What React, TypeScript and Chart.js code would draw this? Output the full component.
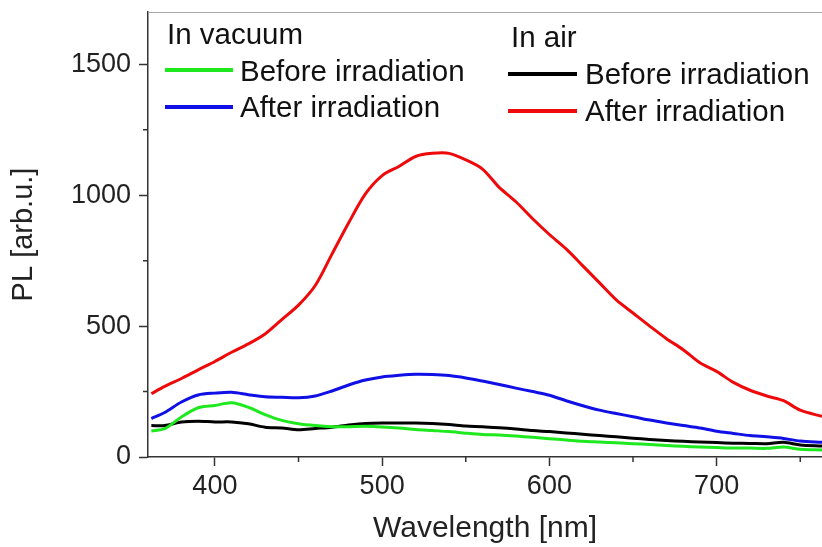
import React, { useEffect, useRef } from 'react';
import { Chart, registerables } from 'chart.js';

Chart.register(...registerables);

const wavelengths = [362, 370, 380, 390, 400, 410, 420, 430, 440, 450, 460, 470, 480, 490, 500, 510, 520, 530, 540, 550, 560, 570, 580, 590, 600, 610, 620, 630, 640, 650, 660, 670, 680, 690, 700, 710, 720, 730, 740, 750, 763];
const vacuumBefore = [99, 108, 153, 188, 197, 207, 190, 162, 140, 127, 120, 116, 116, 117, 115, 111, 105, 101, 97, 91, 86, 84, 80, 75, 70, 65, 60, 57, 54, 51, 48, 44, 41, 38, 36, 34, 34, 33, 38, 30, 27];
const vacuumAfter = [147, 170, 210, 237, 244, 247, 238, 230, 228, 226, 233, 252, 275, 294, 306, 312, 316, 315, 311, 302, 290, 277, 263, 250, 236, 215, 196, 179, 166, 154, 141, 130, 120, 111, 98, 90, 82, 77, 71, 61, 56];
const airBefore = [120, 120, 134, 137, 134, 134, 127, 114, 111, 104, 109, 114, 122, 128, 130, 130, 130, 128, 124, 118, 116, 112, 107, 101, 97, 92, 87, 82, 77, 72, 67, 63, 60, 57, 55, 53, 52, 51, 56, 46, 42];
const airAfter = [242, 270, 300, 333, 365, 400, 432, 470, 525, 580, 655, 775, 895, 1005, 1075, 1110, 1148, 1160, 1160, 1135, 1100, 1030, 975, 910, 850, 795, 730, 665, 600, 550, 500, 452, 410, 360, 327, 285, 255, 233, 215, 179, 155];

const xTicks = [400, 500, 600, 700];
const xMinorTicks = [450, 550, 650, 750];
const yTicks = [0, 500, 1000, 1500];
const yMinorTicks = [250, 750, 1250];

const groupTitles = ['In vacuum', 'In air'];
const seriesLabels = ['Before irradiation', 'After irradiation', 'Before irradiation', 'After irradiation'];
const seriesColors = ['#1ee81e', '#1010e6', '#000000', '#ee0a0a'];
const seriesData = [vacuumBefore, vacuumAfter, airBefore, airAfter];

const FONT = "'Liberation Sans', Arial, sans-serif";

const legendLayout = {
  groups: [
    { titleX: 167, titleY: 44, lineX: 165, lineLen: 68, textX: 240, rows: [{ y: 70, base: 81 }, { y: 107, base: 117 }] },
    { titleX: 511, titleY: 47, lineX: 508, lineLen: 69, textX: 585, rows: [{ y: 74, base: 84 }, { y: 111, base: 121 }] },
  ],
};

const decorPlugin = {
  id: 'decor',
  afterDraw(chart: any) {
    const { ctx, chartArea, scales } = chart;
    ctx.save();
    ctx.strokeStyle = '#aaaaaa';
    ctx.lineWidth = 1;
    ctx.beginPath();
    ctx.moveTo(chartArea.left, chartArea.top + 0.5);
    ctx.lineTo(chartArea.right, chartArea.top + 0.5);
    ctx.stroke();

    ctx.strokeStyle = '#333333';
    ctx.lineWidth = 1.5;
    ctx.beginPath();
    xMinorTicks.forEach((v) => {
      const x = scales.x.getPixelForValue(v);
      ctx.moveTo(x, chartArea.bottom);
      ctx.lineTo(x, chartArea.bottom + 5);
    });
    yMinorTicks.forEach((v) => {
      const y = scales.y.getPixelForValue(v);
      ctx.moveTo(chartArea.left, y);
      ctx.lineTo(chartArea.left - 5, y);
    });
    ctx.stroke();

    ctx.font = `29.5px ${FONT}`;
    ctx.fillStyle = '#111111';
    ctx.textBaseline = 'alphabetic';
    ctx.textAlign = 'left';
    legendLayout.groups.forEach((g, gi) => {
      ctx.fillText(groupTitles[gi], g.titleX, g.titleY);
      g.rows.forEach((r, ri) => {
        const idx = gi * 2 + ri;
        ctx.strokeStyle = seriesColors[idx];
        ctx.lineWidth = 4;
        ctx.beginPath();
        ctx.moveTo(g.lineX, r.y);
        ctx.lineTo(g.lineX + g.lineLen, r.y);
        ctx.stroke();
        ctx.fillText(seriesLabels[idx], g.textX, r.base);
      });
    });
    ctx.restore();
  },
};

export default function App() {
  const ref = useRef<HTMLCanvasElement | null>(null);
  useEffect(() => {
    if (!ref.current) return;
    const datasets = seriesData.map((arr, i) => ({
      label: seriesLabels[i],
      data: arr.map((v, j) => ({ x: wavelengths[j], y: v })),
      borderColor: seriesColors[i],
      backgroundColor: seriesColors[i],
      borderWidth: 3,
      pointRadius: 0,
      tension: 0.3,
      fill: false,
      order: [2, 3, 4, 1][i],
    }));
    const chart = new Chart(ref.current, {
      type: 'line',
      data: { datasets },
      plugins: [decorPlugin],
      options: {
        animation: false,
        responsive: false,
        maintainAspectRatio: false,
        layout: { padding: { top: 12, right: 0, left: 0, bottom: 0 } },
        plugins: { legend: { display: false }, tooltip: { enabled: false } },
        scales: {
          x: {
            type: 'linear',
            min: 360,
            max: 763,
            afterBuildTicks: (s: any) => { s.ticks = xTicks.map((v) => ({ value: v })); },
            afterFit: (s: any) => { s.height = 90; s.paddingLeft = 0; s.paddingRight = 0; },
            grid: { drawOnChartArea: false, drawTicks: true, tickLength: 9, tickColor: '#333333', tickWidth: 1.5 },
            border: { display: true, color: '#333333', width: 1.5 },
            ticks: { font: { size: 27, family: FONT }, color: '#222222', padding: 4, maxRotation: 0, callback: (v: any) => String(v) },
            title: { display: true, text: 'Wavelength [nm]', font: { size: 30, family: FONT }, color: '#222222', padding: { top: 0, bottom: 0 } },
          },
          y: {
            type: 'linear',
            min: 0,
            max: 1700,
            afterBuildTicks: (s: any) => { s.ticks = yTicks.map((v) => ({ value: v })); },
            afterFit: (s: any) => { s.width = 148; s.paddingTop = 0; s.paddingBottom = 0; },
            grid: { drawOnChartArea: false, drawTicks: true, tickLength: 9, tickColor: '#333333', tickWidth: 1.5 },
            border: { display: true, color: '#333333', width: 1.5 },
            ticks: { font: { size: 27, family: FONT }, color: '#222222', padding: 8, callback: (v: any) => String(v) },
            title: { display: true, text: 'PL [arb.u.]', font: { size: 29, family: FONT }, color: '#222222', padding: { top: 7, bottom: 0 } },
          },
        },
      },
    });
    return () => chart.destroy();
  }, []);
  return (
    <div style={{ position: 'fixed', left: 0, top: 0, width: 822, height: 547, background: '#fff' }}>
      <canvas ref={ref} width={822} height={547} style={{ display: 'block' }} />
    </div>
  );
}
